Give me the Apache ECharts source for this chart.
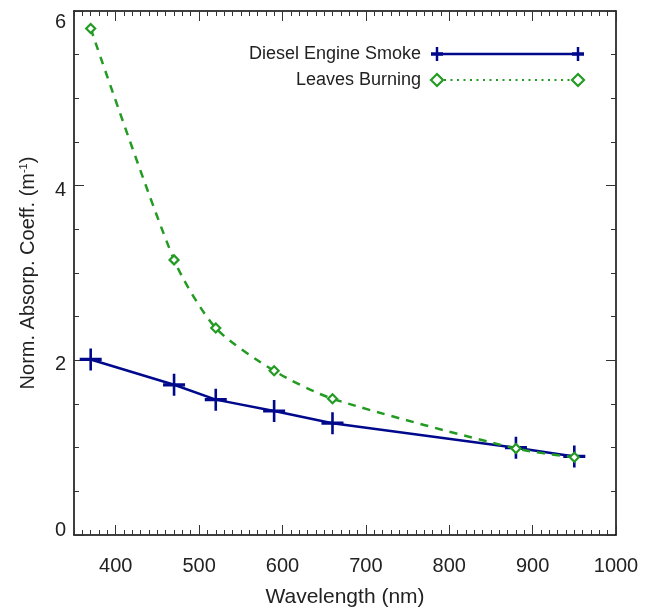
<!DOCTYPE html>
<html><head><meta charset="utf-8">
<script src="https://cdn.jsdelivr.net/npm/echarts@6/dist/echarts.min.js"></script>
<style>html,body{margin:0;padding:0;background:#fff}#c{width:654px;height:608px}</style>
</head><body><div id="c"></div>
<script>
const wavelengths = [370, 470, 520, 590, 660, 880, 950];
const dieselSmoke = [2.01, 1.72, 1.55, 1.42, 1.28, 1.00, 0.90];
const leavesBurning = [5.80, 3.15, 2.37, 1.88, 1.56, 0.99, 0.89];
const xMajorTicks = [400, 500, 600, 700, 800, 900, 1000];
const seriesNames = ['Diesel Engine Smoke', 'Leaves Burning'];

const NAVY = '#00088c';
const GREEN = '#239b23';
const FONT = 'Liberation Sans, Arial, Helvetica, sans-serif';
const plusPath = 'path://M-1.3,-11H1.3V-1.6H11V1.6H1.3V11H-1.3V1.6H-11V-1.6H-1.3Z';

const chart = echarts.init(document.getElementById('c'), null, {renderer: 'canvas'});

const xBase = {type: 'value', min: 350, max: 1000, gridIndex: 0, splitLine: {show: false}};
const yBase = {type: 'value', min: 0, max: 6, interval: 2, gridIndex: 0, splitLine: {show: false}};
const lineStyle = {color: '#000', width: 1.5};
const tickStyle = {color: '#333', width: 1};
const labelFont = {fontFamily: FONT, fontSize: 20, color: '#222'};

chart.setOption({
  animation: false,
  backgroundColor: '#fff',
  grid: {left: 74, right: 38, top: 11, bottom: 73, containLabel: false, outerBoundsMode: 'none'},
  xAxis: [
    Object.assign({}, xBase, {
      position: 'bottom',
      name: 'Wavelength (nm)', nameLocation: 'middle', nameGap: 52,
      nameTextStyle: {fontFamily: FONT, fontSize: 21, color: '#222'},
      axisLine: {show: true, lineStyle: lineStyle},
      axisTick: {show: true, inside: true, length: 10, lineStyle: tickStyle, customValues: xMajorTicks},
      axisLabel: Object.assign({show: true, margin: 21, customValues: xMajorTicks, formatter: v => String(v)}, labelFont)
    }),
    Object.assign({}, xBase, {
      position: 'bottom', interval: 10,
      axisLine: {show: false},
      axisTick: {show: true, inside: true, length: 5, lineStyle: tickStyle},
      axisLabel: {show: false}
    }),
    Object.assign({}, xBase, {
      position: 'top',
      axisLine: {show: true, lineStyle: lineStyle},
      axisTick: {show: true, inside: true, length: 10, lineStyle: tickStyle, customValues: xMajorTicks},
      axisLabel: {show: false}
    }),
    Object.assign({}, xBase, {
      position: 'top', interval: 10,
      axisLine: {show: false},
      axisTick: {show: true, inside: true, length: 5, lineStyle: tickStyle},
      axisLabel: {show: false}
    })
  ],
  yAxis: [
    Object.assign({}, yBase, {
      position: 'left',
      name: 'Norm. Absorp. Coeff. (m{sup|-1})', nameLocation: 'middle', nameGap: 35,
      nameTextStyle: {fontFamily: FONT, fontSize: 20, color: '#222',
        rich: {sup: {fontFamily: FONT, fontSize: 11, color: '#222', verticalAlign: 'top', padding: [0, 0, 10, 0]}}},
      axisLine: {show: true, lineStyle: lineStyle},
      axisTick: {show: true, inside: true, length: 10, lineStyle: tickStyle},
      minorTick: {show: true, splitNumber: 4, length: 5, lineStyle: tickStyle},
      axisLabel: Object.assign({
        show: true, margin: 8,
        formatter: v => v === 0 ? '{lo|0}' : (v === 6 ? '{hi|6}' : '{mid|' + v + '}'),
        rich: {
          lo: Object.assign({padding: [0, 0, 10, 0]}, labelFont),
          mid: Object.assign({padding: [9, 0, 0, 0]}, labelFont),
          hi: Object.assign({padding: [22, 0, 0, 0]}, labelFont)
        }
      }, labelFont)
    }),
    Object.assign({}, yBase, {
      position: 'right',
      axisLine: {show: true, lineStyle: lineStyle},
      axisTick: {show: true, inside: true, length: 10, lineStyle: tickStyle},
      minorTick: {show: true, splitNumber: 4, length: 5, lineStyle: tickStyle},
      axisLabel: {show: false}
    })
  ],
  series: [
    {
      name: seriesNames[0], type: 'line', xAxisIndex: 0, yAxisIndex: 0, z: 2,
      data: wavelengths.map((w, i) => [w, dieselSmoke[i]]),
      symbol: plusPath, symbolSize: 22,
      itemStyle: {color: NAVY},
      lineStyle: {color: NAVY, width: 2.5}
    },
    {
      name: seriesNames[1], type: 'line', xAxisIndex: 0, yAxisIndex: 0, z: 3,
      data: wavelengths.map((w, i) => [w, leavesBurning[i]]),
      smooth: 0.25,
      symbol: 'diamond', symbolSize: 9,
      itemStyle: {color: '#fff', borderColor: GREEN, borderWidth: 2.2},
      lineStyle: {color: GREEN, width: 2.5, type: [8, 7]}
    }
  ],
  graphic: [
    {type: 'text', x: 421, y: 54, style: {text: seriesNames[0], fontFamily: FONT, fontSize: 18, fill: '#222', textAlign: 'right', textVerticalAlign: 'middle'}},
    {type: 'line', shape: {x1: 437, y1: 54, x2: 578, y2: 54}, style: {stroke: NAVY, lineWidth: 2.5}},
    {type: 'line', shape: {x1: 437, y1: 47, x2: 437, y2: 61}, style: {stroke: NAVY, lineWidth: 2.5}},
    {type: 'line', shape: {x1: 578, y1: 47, x2: 578, y2: 61}, style: {stroke: NAVY, lineWidth: 2.5}},
    {type: 'line', shape: {x1: 431, y1: 54, x2: 443, y2: 54}, style: {stroke: NAVY, lineWidth: 3.5}},
    {type: 'line', shape: {x1: 572, y1: 54, x2: 584, y2: 54}, style: {stroke: NAVY, lineWidth: 3.5}},
    {type: 'text', x: 421, y: 80, style: {text: seriesNames[1], fontFamily: FONT, fontSize: 18, fill: '#222', textAlign: 'right', textVerticalAlign: 'middle'}},
    {type: 'line', shape: {x1: 444, y1: 80, x2: 571, y2: 80}, style: {stroke: GREEN, lineWidth: 2, lineDash: [2, 4.5]}},
    {type: 'polygon', shape: {points: [[437, 74], [443, 80], [437, 86], [431, 80]]}, style: {stroke: GREEN, lineWidth: 2.2, fill: '#fff'}},
    {type: 'polygon', shape: {points: [[578, 74], [584, 80], [578, 86], [572, 80]]}, style: {stroke: GREEN, lineWidth: 2.2, fill: '#fff'}}
  ]
});
</script>
</body></html>
